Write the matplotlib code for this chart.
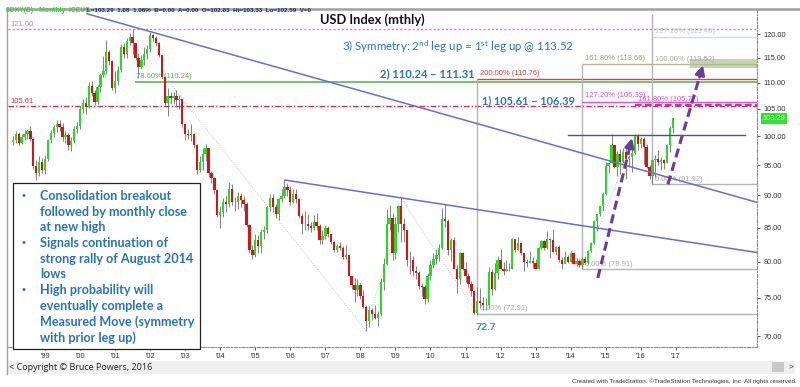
import numpy as np
import matplotlib
matplotlib.use("Agg")
import matplotlib.pyplot as plt
import matplotlib.patches as patches

W, H = 800, 387
GREEN = "#22DD22"
RED = "#DD1111"
WICK = "#6E6E6E"
BLUE_TXT = "#2673C2"
TREND = "#6B6BD8"
ARROW = "#6A3D9A"
GRAYLN = "#B4B4B4"

# monthly bars, Feb 1998 .. Dec 2016 (month index 0 = Jan 1999)
FIRST_MONTH = -11
FIRST_OPEN = 99.0
close_ = [
    99.3, 100.5, 98.9, 99.9, 100.4, 100.9, 99.6, 94.8, 93.6, 95.6, 94.2,
    96.0, 99.3, 100.6, 101.6, 102.2, 101.7, 99.8, 100.3, 98.4, 99.2, 101.4, 101.9,
    105.0, 106.1, 105.4, 109.3, 108.1, 106.4, 109.1, 111.6, 112.4, 116.2, 114.3, 109.0,
    110.4, 112.6, 117.3, 115.8, 118.6, 119.4, 118.0, 114.9, 113.2, 114.5, 115.8, 116.8,
    119.8, 119.1, 118.2, 115.6, 111.2, 106.2, 107.5, 107.0, 107.4, 106.6, 106.9, 102.2,
    100.5, 100.2, 100.4, 98.5, 94.2, 95.5, 96.9, 97.9, 93.6, 92.9, 90.9, 86.9,
    87.4, 88.9, 88.6, 91.0, 89.0, 88.9, 89.9, 89.3, 88.6, 85.4, 81.7, 80.9,
    83.2, 82.3, 84.4, 84.7, 88.1, 89.6, 88.1, 87.1, 89.5, 89.9, 91.3, 90.9,
    89.0, 90.3, 89.5, 86.7, 85.5, 85.6, 85.3, 85.0, 85.9, 85.2, 83.1, 83.7,
    84.9, 84.0, 82.9, 81.6, 82.2, 81.9, 80.6, 80.9, 78.0, 76.7, 76.0, 76.7,
    75.3, 73.8, 72.0, 73.4, 72.9, 72.4, 72.9, 77.2, 79.6, 85.6, 86.5, 81.3,
    85.6, 88.4, 85.5, 84.6, 80.2, 80.2, 78.6, 78.4, 76.6, 76.4, 74.9, 77.9,
    79.5, 80.3, 81.0, 81.9, 86.3, 86.0, 81.6, 83.1, 78.9, 77.5, 81.2, 79.0,
    77.9, 76.9, 75.9, 73.0, 74.6, 74.3, 74.0, 74.1, 78.5, 76.2, 78.4, 80.2,
    79.0, 78.6, 79.0, 78.9, 83.3, 81.6, 82.7, 81.2, 79.9, 79.8, 80.1, 79.8,
    79.0, 82.0, 83.0, 82.0, 83.3, 83.2, 81.4, 82.1, 80.2, 79.6, 80.7, 80.0,
    81.2, 79.7, 80.1, 79.5, 80.4, 79.8, 81.5, 82.7, 86.0, 87.0, 88.4, 90.3,
    94.8, 95.3, 98.4, 94.6, 96.9, 95.5, 97.3, 96.0, 96.4, 97.1, 100.2, 98.6,
    99.6, 98.2, 94.6, 93.1, 95.9, 96.1, 95.5, 95.9, 95.4, 98.4, 101.5, 103.29,
]
high_ = [
    100.1, 101.0, 100.8, 100.4, 101.1, 101.4, 101.9, 99.9, 95.8, 96.5, 96.2,
    96.8, 99.6, 101.1, 102.1, 102.9, 103.0, 102.4, 101.0, 100.6, 99.9, 101.9, 102.5,
    105.6, 106.8, 107.2, 110.2, 110.3, 108.6, 109.6, 112.0, 115.4, 118.7, 116.6, 114.5,
    112.3, 113.4, 117.9, 118.2, 119.1, 120.2, 121.0, 118.2, 116.0, 115.7, 117.3, 117.6,
    120.5, 120.1, 119.5, 118.4, 115.6, 111.4, 108.9, 108.3, 108.3, 108.6, 107.6, 106.9,
    102.4, 101.4, 102.2, 100.6, 98.6, 96.6, 97.9, 98.7, 98.0, 94.0, 93.0, 91.1,
    88.3, 89.6, 89.9, 92.2, 91.8, 89.8, 90.6, 90.4, 89.9, 88.9, 85.6, 82.4,
    84.1, 83.9, 84.8, 85.3, 88.4, 90.2, 90.3, 88.6, 89.6, 91.1, 92.6, 92.0,
    91.5, 91.0, 91.0, 89.6, 87.3, 87.6, 87.0, 85.9, 86.9, 87.2, 85.5, 84.7,
    85.4, 85.2, 84.1, 83.0, 82.6, 82.8, 82.2, 82.4, 81.0, 78.0, 77.7, 77.6,
    77.0, 76.0, 74.0, 73.9, 73.7, 74.0, 73.3, 77.7, 80.5, 87.9, 88.5, 87.3,
    86.6, 88.5, 89.6, 86.5, 84.6, 81.5, 80.8, 79.4, 78.7, 77.0, 76.7, 78.4,
    80.2, 81.3, 81.8, 82.6, 88.0, 88.7, 86.3, 83.5, 83.6, 79.5, 81.4, 81.4,
    80.0, 78.4, 77.3, 76.1, 76.4, 76.3, 75.1, 75.0, 79.2, 79.0, 79.8, 80.8,
    81.8, 79.9, 80.2, 79.8, 83.5, 83.0, 83.6, 82.9, 81.2, 80.3, 81.5, 80.7,
    80.3, 82.1, 83.2, 83.1, 84.5, 83.4, 84.8, 82.2, 82.4, 80.6, 81.5, 80.9,
    81.5, 81.4, 80.5, 80.4, 80.6, 80.8, 81.6, 82.9, 86.1, 87.0, 88.4, 90.5,
    95.5, 95.4, 100.4, 98.3, 97.4, 97.8, 98.0, 98.3, 96.8, 98.1, 100.5, 100.5,
    99.9, 99.8, 98.6, 95.1, 96.0, 96.7, 97.6, 96.4, 96.0, 98.7, 101.8, 103.33,
]
low_ = [
    98.4, 98.9, 98.5, 98.6, 99.3, 99.6, 99.1, 94.3, 92.5, 93.1, 93.6,
    93.5, 95.7, 98.8, 99.8, 100.7, 101.0, 99.2, 98.9, 97.6, 97.4, 98.9, 100.6,
    101.4, 104.2, 104.1, 105.2, 107.4, 105.7, 106.0, 108.3, 111.1, 111.8, 113.5, 108.6,
    108.1, 109.5, 112.2, 115.0, 114.9, 117.6, 115.8, 114.5, 110.9, 112.7, 113.6, 114.8,
    116.3, 118.5, 117.4, 115.2, 110.8, 105.7, 103.6, 105.9, 105.9, 105.5, 104.9, 101.6,
    99.4, 99.5, 99.1, 97.9, 93.5, 93.8, 94.2, 95.7, 93.0, 92.0, 90.3, 86.6,
    84.9, 86.6, 87.4, 88.2, 88.5, 87.6, 87.8, 88.2, 87.6, 85.1, 81.3, 80.4,
    80.6, 81.3, 81.3, 83.3, 84.2, 87.6, 87.4, 86.4, 86.2, 88.9, 89.6, 89.9,
    88.5, 88.8, 88.8, 86.5, 84.0, 84.6, 84.6, 84.3, 84.6, 84.6, 82.6, 82.6,
    83.3, 83.6, 82.6, 81.4, 81.4, 81.6, 80.3, 80.4, 77.9, 76.2, 74.5, 75.3,
    74.9, 73.6, 70.7, 71.2, 72.1, 72.2, 71.3, 72.6, 76.0, 79.5, 84.6, 80.2,
    80.3, 84.4, 82.9, 82.9, 79.3, 78.3, 77.9, 77.6, 76.2, 75.2, 74.2, 74.5,
    77.4, 79.1, 79.6, 80.1, 81.8, 85.1, 80.9, 80.1, 78.9, 75.6, 76.9, 78.8,
    77.1, 76.5, 75.3, 72.9, 72.7, 73.6, 73.4, 73.4, 73.6, 75.4, 76.0, 77.5,
    78.9, 78.1, 78.6, 78.6, 78.9, 81.4, 81.6, 81.0, 78.6, 79.2, 79.8, 79.1,
    78.9, 79.0, 81.8, 81.7, 81.8, 80.5, 81.4, 80.9, 79.9, 79.0, 80.1, 79.8,
    79.9, 79.6, 79.3, 79.2, 78.9, 79.7, 79.7, 81.4, 82.5, 84.5, 86.8, 87.6,
    90.0, 93.6, 95.4, 94.5, 93.1, 93.5, 95.4, 92.6, 94.6, 93.8, 96.9, 97.6,
    97.9, 95.2, 94.5, 92.6, 91.9, 93.0, 95.1, 94.1, 94.4, 95.3, 97.3, 100.6,
]

YEAR_LABELS = ["'99", "'00", "'01", "'02", "'03", "'04", "'05", "'06", "'07", "'08",
               "'09", "'10", "'11", "'12", "'13", "'14", "'15", "'16", "'17"]
PRICE_TICKS = [70, 75, 80, 85, 90, 95, 100, 105, 110, 115, 120]

# trendlines / drawings: (month index, price)
TREND_UPPER = [(14.4, 124.4), (243.8, 88.9)]
TREND_LOWER = [(82.2, 92.5), (243.8, 81.3)]
RESIST = [(179.0, 100.2), (239.6, 100.2)]
ARROW_1 = [(189.3, 77.7), (201.0, 99.7)]
ARROW_2 = [(213.3, 91.8), (225.3, 113.5)]
DOTTED = [
    [(40.0, 112.0), (110.0, 70.7)],
    [(110.0, 70.7), (122.0, 89.4)],
    [(122.0, 89.4), (148.0, 72.9)],
    [(184.0, 78.9), (202.0, 100.0)],
]
# full-width levels
LVL_121 = 121.00
LVL_10561 = 105.61
# fibonacci tools: anchor month, levels
FIB_7860 = (30.8, 110.24)
FIB_A = (148.0, 72.91, 110.76)          # 0%, 200%
FIB_B = (184.0, 78.91, 106.39, 113.66)  # 0%, 127.2%, 161.8%
FIB_C = (208.0, 91.92, 113.52, 119.40)  # 0%, 100%, 127.2%
FIB_D = (202.0, 105.77)                 # 161.8%
TARGET_BAND = (220.8, 112.9, 114.8)
LAST_PRICE = 103.29

X0, X1 = -12.67, 243.8
Y0, Y1 = 68.7, 125.25

plt.rcParams["font.family"] = ["Liberation Sans", "DejaVu Sans"]
plt.rcParams["mathtext.default"] = "regular"

fig = plt.figure(figsize=(W / 100, H / 100), dpi=100, facecolor="white")
ax = fig.add_axes([8 / W, 1 - 347 / H, 749 / W, 337 / H])
ax.set_facecolor("white")
ax.set_yscale("log")
ax.set_xlim(X0, X1)
ax.set_ylim(Y0, Y1)


def fx(x, y):
    return x / W, 1 - y / H


# --- candles ---
n = len(close_)
idx = np.arange(n) + FIRST_MONTH
c = np.array(close_)
o = np.concatenate([[FIRST_OPEN], c[:-1]])
hi = np.array(high_)
lo = np.array(low_)
up = c >= o
ax.vlines(idx, lo, hi, color=WICK, linewidth=0.6, zorder=3)
ax.bar(idx, np.abs(c - o), bottom=np.minimum(o, c), width=0.8,
       color=np.where(up, GREEN, RED), linewidth=0, zorder=4)

# --- full width levels ---
ax.axhline(LVL_121, color="#E070E0", linestyle=(0, (1.5, 1.5)), linewidth=1.0, zorder=2)
ax.axhline(LVL_10561, color="#D8304A", linestyle=(0, (4, 1.5, 1, 1.5)), linewidth=1.0, zorder=2)
ax.text(X0 + 0.8, LVL_121 * 1.002, "121.00", color="#E070E0", fontsize=5.5, va="bottom")
ax.text(X0 + 0.8, LVL_10561 * 1.002, "105.61", color="#D8304A", fontsize=5.5, va="bottom")

# --- fib drawings ---
ax.hlines(FIB_7860[1], FIB_7860[0], X1, color="#5CB85C", linewidth=1.2, zorder=2)
ax.text(FIB_7860[0] + 0.5, FIB_7860[1] * 1.003, "78.60% (110.24)", color="#5CB85C",
        fontsize=5.5, va="bottom")

a0, a_lo, a_hi = FIB_A
ax.vlines(a0, a_lo, a_hi, color=GRAYLN, linewidth=1.0, zorder=2)
ax.hlines(a_lo, a0, X1, color=GRAYLN, linewidth=1.0, zorder=2)
ax.hlines(a_hi, a0, X1, color="#E04040", linewidth=1.0, zorder=2)
ax.text(a0 + 1, a_lo * 1.003, "0.00% (72.91)", color="#A8A8A8", fontsize=5.5, va="bottom")
ax.text(a0 + 1, a_hi * 1.004, "200.00% (110.76)", color="#E04040", fontsize=5.5, va="bottom")

b0, b_lo, b_mid, b_hi = FIB_B
ax.vlines(b0, b_lo, b_hi, color=GRAYLN, linewidth=1.0, zorder=2)
ax.hlines(b_lo, b0, X1, color=GRAYLN, linewidth=1.0, zorder=2)
ax.hlines(b_mid, b0, X1, color="#E050E0", linewidth=1.0, zorder=2)
ax.hlines(b_hi, b0, X1, color="#B4B88C", linewidth=1.0, zorder=2)
ax.text(b0 + 1, b_lo * 1.003, "0.00% (78.91)", color="#A8A8A8", fontsize=5.5, va="bottom")
ax.text(b0 + 1, b_mid * 1.004, "127.20% (106.39)", color="#E050E0", fontsize=5.5, va="bottom")
ax.text(b0 + 1, b_hi * 1.004, "161.80% (113.66)", color="#A0A070", fontsize=5.5, va="bottom")

c0, c_lo, c_mid, c_hi = FIB_C
ax.vlines(c0, c_lo, Y1 * 0.993, color=GRAYLN, linewidth=1.0, zorder=2)
ax.hlines(c_lo, c0, X1, color=GRAYLN, linewidth=1.0, zorder=2)
ax.hlines(c_hi, c0, X1, color="#C8DCF0", linewidth=1.0, zorder=2)
ax.text(c0 + 1, c_lo * 1.001, "0.00% (91.92)", color="#A8A8A8", fontsize=5.5, va="bottom")
ax.text(c0 + 1, c_mid * 1.004, "100.00% (113.52)", color="#A8A8A8", fontsize=5.5, va="bottom")
ax.text(c0 + 1, c_hi * 1.003, "127.20% (119.40)", color="#B8CCE4", fontsize=5.5, va="bottom")

ax.hlines(FIB_D[1], FIB_D[0], X1, color="#E020C0", linewidth=1.6,
          linestyle=(0, (3, 1.5)), zorder=2)
ax.text(FIB_D[0] + 1, FIB_D[1] * 1.004, "161.80% (105.77)", color="#E050E0",
        fontsize=5.5, va="bottom")

tb0, tb_lo, tb_hi = TARGET_BAND
ax.add_patch(patches.Rectangle((tb0, tb_lo), X1 - tb0, tb_hi - tb_lo,
                               facecolor="#A9CC98", edgecolor="none", alpha=0.75, zorder=1))

# --- faint swing connectors ---
for seg in DOTTED:
    ax.plot([seg[0][0], seg[1][0]], [seg[0][1], seg[1][1]], color="#C4C4C4",
            linewidth=0.7, linestyle=(0, (1, 1.5)), zorder=2)

# --- trendlines ---
for seg in (TREND_UPPER, TREND_LOWER):
    ax.plot([seg[0][0], seg[1][0]], [seg[0][1], seg[1][1]], color=TREND,
            linewidth=1.1, zorder=5)
ax.plot([RESIST[0][0], RESIST[1][0]], [RESIST[0][1], RESIST[1][1]], color="#4A4AA8",
        linewidth=1.0, zorder=5)

# --- symmetry arrows ---
for (sx, sy), (ex, ey) in (ARROW_1, ARROW_2):
    t = 0.9
    mx = sx + (ex - sx) * t
    my = np.exp(np.log(sy) + (np.log(ey) - np.log(sy)) * t)
    ax.plot([sx, mx], [sy, my], color=ARROW, linewidth=2.2,
            linestyle=(0, (3, 1.6)), zorder=6)
    ax.annotate("", xy=(ex, ey), xytext=(mx, my),
                arrowprops=dict(arrowstyle="-|>,head_width=0.28,head_length=0.55",
                                color=ARROW, linewidth=2.0, shrinkA=0, shrinkB=0),
                zorder=6)

# --- axes styling ---
for side in ("top", "left"):
    ax.spines[side].set_visible(False)
for side in ("right", "bottom"):
    ax.spines[side].set_color("#8A8A8A")
    ax.spines[side].set_linestyle((0, (3, 1.5, 1, 1.5)))
    ax.spines[side].set_linewidth(0.8)
ax.yaxis.tick_right()
ax.yaxis.set_minor_locator(matplotlib.ticker.NullLocator())
ax.set_yticks(PRICE_TICKS)
ax.set_yticklabels([f"{v:.2f}" for v in PRICE_TICKS])
ax.set_xticks([12 * k for k in range(len(YEAR_LABELS))])
ax.set_xticklabels(YEAR_LABELS)
ax.tick_params(axis="both", labelsize=5.3, colors="#333333", length=2.5, width=0.6, pad=2)

# last price tag
ax.annotate(f"{LAST_PRICE:.2f}", xy=(1.0, LAST_PRICE), xycoords=("axes fraction", "data"),
            xytext=(4, 0), textcoords="offset points", fontsize=5.3, color="white",
            va="center", ha="left",
            bbox=dict(boxstyle="square,pad=0.25", facecolor="#2EE62E", edgecolor="none"))

# --- frame / chrome ---
fig.add_artist(plt.Line2D([7 / W, 1], [1 - 9 / H] * 2, color="#A0A0A0", linewidth=1.8))
fig.add_artist(plt.Line2D([7 / W] * 2, [1 - 9 / H, 1 - 374 / H], color="#A0A0A0",
                          linewidth=1.0))
fig.add_artist(patches.Rectangle(fx(8, 374), 787 / W, 13 / H, facecolor="#F0F0F0",
                                 edgecolor="none", transform=fig.transFigure))
fig.add_artist(patches.Rectangle(fx(772, 372), 12 / W, 10 / H, facecolor="#C8C8C8",
                                 edgecolor="none", transform=fig.transFigure))
fig.text(*fx(789, 367), ">", fontsize=6, color="#333333", va="center")
fig.text(*fx(9, 367), "< Copyright © Bruce Powers, 2016", fontsize=6.5, color="#222222",
         va="center", family=["Open Sans", "DejaVu Sans"])
fig.text(*fx(797, 381), "Created with TradeStation. ©TradeStation Technologies, Inc. All rights reserved.",
         fontsize=4.6, color="#333333", va="center", ha="right")

# header
fig.text(*fx(6, 10.5), "$DXY(D) - Monthly  ICEUS", fontsize=4.9, color="#3AD03A",
         fontweight="bold", va="center")
fig.text(*fx(87, 10.5),
         "L=103.29  1.08  1.06%  B=0.00  A=0.00  O=102.83  Hi=103.33  Lo=102.59  V=0",
         fontsize=4.5, color="#1C2A7A", fontweight="bold", va="center")

# titles / notes
LATO = ["Lato", "DejaVu Sans"]
fig.text(*fx(372, 20), "USD Index (mthly)", fontsize=9.3, fontweight="bold", color="#111111",
         ha="center", va="center", family=LATO)
fig.text(*fx(342, 47), "3) Symmetry: 2$^{nd}$ leg up = 1$^{st}$ leg up @ 113.52",
         fontsize=8.3, color=BLUE_TXT, va="center", family=LATO)
fig.text(*fx(380, 74), "2) 110.24 – 111.31", fontsize=8.0, color=BLUE_TXT, va="center",
         family=LATO, fontweight="bold")
fig.text(*fx(482, 101), "1) 105.61 – 106.39", fontsize=7.9, color=BLUE_TXT, va="center",
         family=LATO, fontweight="bold")
fig.text(*fx(476, 328), "72.7", fontsize=7.5, color="#2E9E80", fontweight="bold",
         va="center", family=LATO)

# comment box
fig.add_artist(patches.Rectangle(fx(13, 349), 187 / W, 166 / H, facecolor="white",
                                 edgecolor="#222222", linewidth=0.9,
                                 transform=fig.transFigure, zorder=10))
NOTE_LINES = ["Consolidation breakout", "followed by monthly close", "at new high",
              "Signals continuation of", "strong rally of August 2014", "lows",
              "High probability will", "eventually complete a",
              "Measured Move (symmetry", "with prior leg up)"]
BULLETS = [0, 3, 6]
for k, line in enumerate(NOTE_LINES):
    yy = 196 + k * 15.7
    if k in BULLETS:
        fig.text(*fx(21, yy), "•", fontsize=8, color=BLUE_TXT, va="center", zorder=11)
    fig.text(*fx(40, yy), line, fontsize=9.1, color=BLUE_TXT, va="center",
             family=LATO, fontweight="bold", zorder=11)

fig.savefig("out.png", dpi=100, facecolor="white")
